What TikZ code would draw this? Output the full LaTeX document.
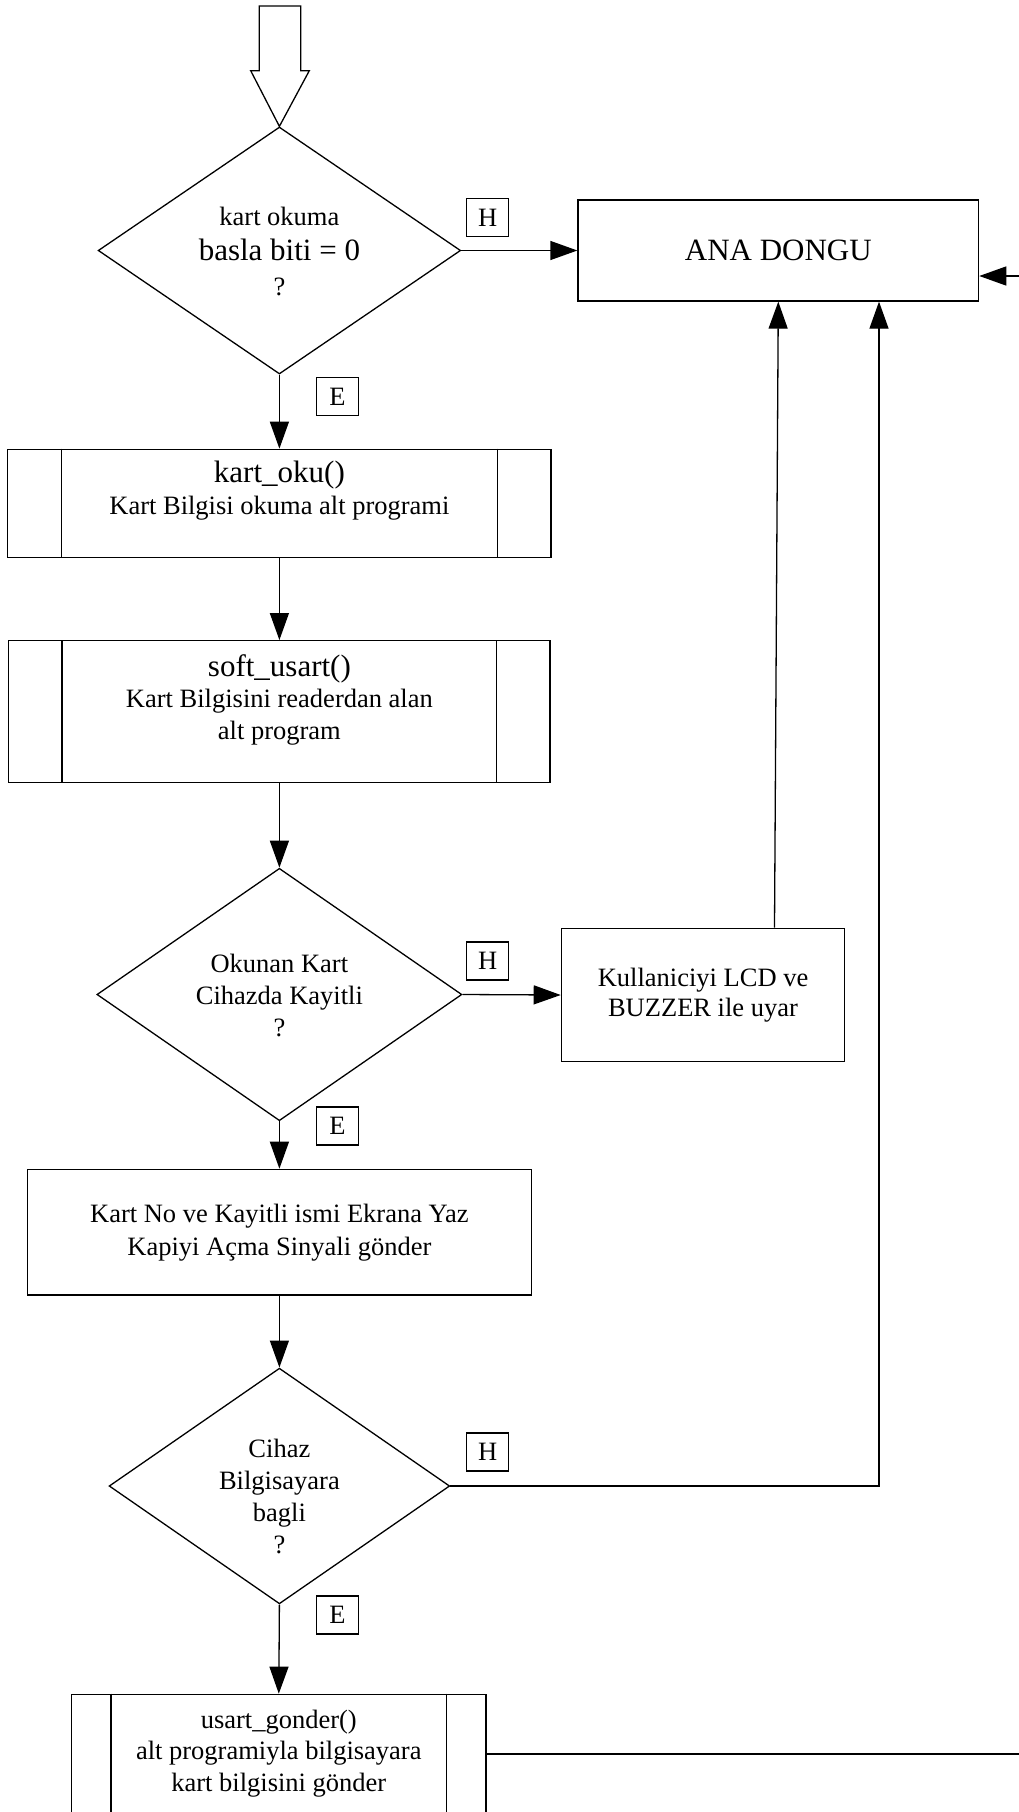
\documentclass[tikz,border=0pt]{standalone}
\usepackage{fontspec}
\setmainfont{Liberation Serif}
\usetikzlibrary{shapes.geometric,arrows.meta}
\newcommand\smtext{\fontsize{26.5}{32}\selectfont}
\newcommand\lgtext{\fontsize{31}{34}\selectfont}
\begin{document}
\begin{tikzpicture}[x=1pt,y=-1pt,
  line width=1.3pt,
  box/.style={draw, rectangle, inner sep=0pt, align=center, font=\smtext},
  decision/.style={draw, diamond, inner sep=0pt},
  tag/.style={draw, rectangle, inner sep=0pt, minimum width=42pt,
              minimum height=38pt, font=\smtext, line width=1.1pt},
  caption/.style={align=center, font=\smtext, inner sep=0pt},
  flow/.style={-{Triangle[length=27pt,width=19pt]}},
]
\useasboundingbox (0,0) rectangle (1019,1812);

% decisions
\node[decision, minimum width=362.5pt, minimum height=247pt] (d1) at (279.4,250.5) {};
\node[caption, font=\fontsize{26.5}{35}\selectfont] (d1t) at (279.4,251)
  {kart okuma\\{\lgtext basla biti = 0}\\?};
\node[decision, minimum width=365pt, minimum height=252.4pt] (d2) at (279.4,994.5) {};
\node[caption] (d2t) at (279.4,995) {Okunan Kart\\Cihazda Kayitli\\?};
\node[decision, minimum width=340.6pt, minimum height=235.7pt] (d3) at (279.4,1486) {};
\node[caption] (d3t) at (279.4,1496) {Cihaz\\Bilgisayara\\bagli\\?};

% process boxes
\node[box, minimum width=400.6pt, minimum height=101pt, font=\lgtext] (ana) at (778.3,250.5) {ANA DONGU};
\node[box, minimum width=283.3pt, minimum height=133.4pt, font=\fontsize{26.5}{30}\selectfont] (kull) at (703,995)
  {Kullaniciyi LCD ve\\BUZZER ile uyar};
\node[box, minimum width=504.2pt, minimum height=125.7pt, font=\fontsize{26.5}{33}\selectfont] (kart) at (279.4,1232.2)
  {Kart No ve Kayitli ismi Ekrana Yaz\\Kapiyi Açma Sinyali gönder};

% sub-program boxes
\node[box, minimum width=543.2pt, minimum height=108.4pt] (p1) at (279.4,503.5) {};
\node[caption] (p1t) at (279.4,491) {{\lgtext kart\_oku()}\\Kart Bilgisi okuma alt programi};
\node[box, minimum width=541.3pt, minimum height=142pt] (p2) at (279.4,711.7) {};
\node[caption, font=\fontsize{26.5}{31.5}\selectfont] (p2t) at (279.4,699.5)
  {{\lgtext soft\_usart()}\\Kart Bilgisini readerdan alan\\alt program};
\node[box, minimum width=414.5pt, minimum height=119.2pt] (p3) at (278.8,1753.9) {};
\node[caption, font=\fontsize{26.5}{31.6}\selectfont] (p3t) at (278.8,1753.3)
  {usart\_gonder()\\alt programiyla bilgisayara\\kart bilgisini gönder};
\foreach \n/\o in {p1/54,p2/54,p3/40} {
  \draw ([xshift=\o pt]\n.north west) -- ([xshift=\o pt]\n.south west);
  \draw ([xshift=-\o pt]\n.north east) -- ([xshift=-\o pt]\n.south east);
}

% yes / no tags
\node[tag] (h1) at (487.7,217.5) {H};
\node[tag] (e1) at (337.5,396.5) {E};
\node[tag] (h2) at (487.7,961) {H};
\node[tag] (e2) at (337.5,1126) {E};
\node[tag] (h3) at (487.7,1452) {H};
\node[tag] (e3) at (337.5,1615) {E};

% entry arrow
\draw (259.3,6) -- (300.7,6) -- (300.7,70.7) -- (309.3,70.7) -- (d1.north)
  -- (250.7,70.7) -- (259.3,70.7) -- cycle;

% connectors
\draw[flow] (d1.south) -- (p1.north);
\draw[flow] (p1.south) -- (p2.north);
\draw[flow] (p2.south) -- (d2.north);
\draw[flow] (d2.south) -- (kart.north);
\draw[flow] (kart.south) -- (d3.north);
\draw[flow] (d3.south) -- (p3.north);
\draw[flow] (d1.east) -- (ana.west);
\draw[flow] (d2.east) -- (kull.west);
\draw[flow] ([xshift=71.5pt]kull.north) -- (ana.south);
\draw[flow] (d3.east) -| ([xshift=100.7pt]ana.south);
\draw[flow] (p3.east) -- ++(560,0) |- ([yshift=-25.5pt]ana.east);
\end{tikzpicture}
\end{document}
